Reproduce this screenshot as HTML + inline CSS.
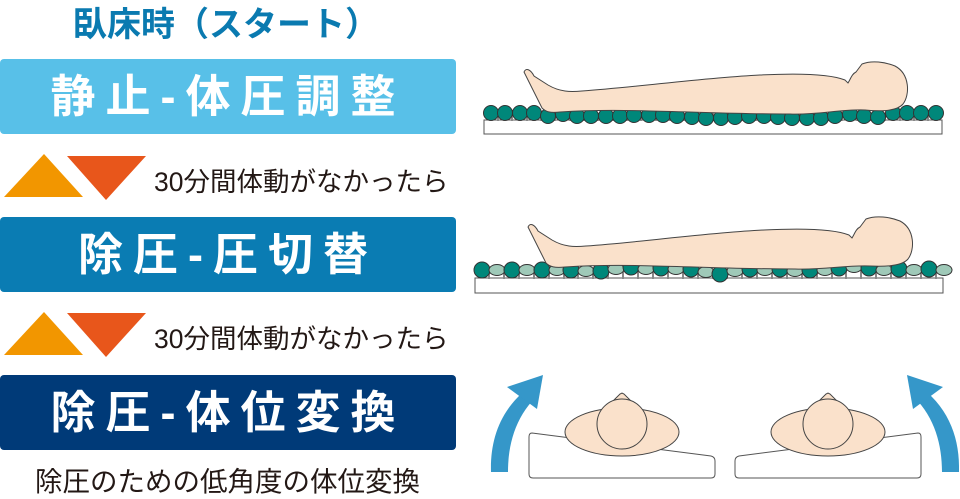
<!DOCTYPE html>
<html><head><meta charset="utf-8"><style>
body{margin:0;width:960px;height:496px;background:#fff;overflow:hidden;position:relative;font-family:"Liberation Sans","Noto Sans CJK JP",sans-serif}
.t{position:absolute;white-space:nowrap}
.box{position:absolute;left:0;width:456px;height:75px;border-radius:4px;color:#fff;font-weight:bold;font-size:45px;line-height:75px;text-align:center;letter-spacing:10px}
</style></head><body>
<div class="t" style="left:73px;top:-3px;font-size:34px;font-weight:bold;color:#0a7ab0;letter-spacing:0px">臥床時（スタート）</div>
<div class="box" style="top:59px;background:#58c0e8">静止-体圧調整</div>
<div class="box" style="top:217px;background:#0a7cb3">除圧-圧切替</div>
<div class="box" style="top:375px;background:#003a78">除圧-体位変換</div>
<div class="t" style="left:154px;top:160px;font-size:26.5px;color:#231815">30分間体動がなかったら</div>
<div class="t" style="left:154px;top:317px;font-size:26.5px;color:#231815">30分間体動がなかったら</div>
<div class="t" style="left:35px;top:459px;font-size:27.5px;color:#231815">除圧のための低角度の体位変換</div>
<svg width="960" height="496" style="position:absolute;left:0;top:0">
<polygon points="4,197 44,154 83,197" fill="#f29600"/>
<polygon points="67,156 146,156 106,200" fill="#e8561b"/>
<polygon points="4,355 44,312 83,355" fill="#f29600"/>
<polygon points="67,313 146,313 106,357" fill="#e8561b"/>
<g stroke="#555" stroke-width="1">
<rect x="484" y="120" width="458" height="14" fill="#fff"/>
<rect x="475" y="278" width="468" height="15" fill="#fff"/>
</g>
<g id="r1" fill="#00877a" stroke="#333" stroke-width="1">
<g stroke="#888" stroke-width="2">
<path d="M498,113v8M512,113v8M527,113v8M541,113v8M555,113v8M570,113v8M584,113v8M598,113v8M613,113v8M627,113v8M641,113v8M656,113v8M670,113v8M684,113v8M699,113v8M713,113v8M728,113v8M742,113v8M756,113v8M771,113v8M785,113v8M799,113v8M814,113v8M828,113v8M842,113v8M857,113v8M871,113v8M885,113v8M900,113v8M914,113v8M928,113v8"/>
<path d="M489,270v9M504,270v9M519,270v9M534,270v9M549,270v9M564,270v9M578,270v9M593,270v9M608,270v9M623,270v9M638,270v9M653,270v9M668,270v9M683,270v9M698,270v9M713,270v9M727,270v9M742,270v9M757,270v9M772,270v9M787,270v9M802,270v9M817,270v9M832,270v9M846,270v9M861,270v9M876,270v9M891,270v9M906,270v9M921,270v9M936,270v9"/>
</g>
<circle cx="491" cy="113" r="7.5"/><circle cx="505" cy="113" r="7.5"/><circle cx="520" cy="113" r="7.5"/><circle cx="534" cy="113" r="7.5"/><circle cx="548" cy="116" r="7.5"/><circle cx="563" cy="114" r="7.5"/><circle cx="577" cy="116" r="7.5"/><circle cx="591" cy="116" r="7.5"/><circle cx="606" cy="116" r="7.5"/><circle cx="620" cy="116" r="7.5"/><circle cx="634" cy="115" r="7.5"/><circle cx="649" cy="115" r="7.5"/><circle cx="663" cy="115" r="7.5"/><circle cx="677" cy="116" r="7.5"/><circle cx="692" cy="117" r="7.5"/><circle cx="706" cy="118" r="7.5"/><circle cx="721" cy="118" r="7.5"/><circle cx="735" cy="117" r="7.5"/><circle cx="749" cy="116" r="7.5"/><circle cx="764" cy="116" r="7.5"/><circle cx="778" cy="117" r="7.5"/><circle cx="792" cy="118" r="7.5"/><circle cx="807" cy="118" r="7.5"/><circle cx="821" cy="118" r="7.5"/><circle cx="835" cy="116" r="7.5"/><circle cx="850" cy="114" r="7.5"/><circle cx="864" cy="116" r="7.5"/><circle cx="878" cy="117" r="7.5"/><circle cx="893" cy="113" r="7.5"/><circle cx="907" cy="113" r="7.5"/><circle cx="921" cy="113" r="7.5"/><circle cx="936" cy="113" r="7.5"/>
</g>
<g stroke="#333" stroke-width="1">
<circle cx="482" cy="270" r="8" fill="#00877a"/><ellipse cx="497" cy="270" rx="8" ry="5.5" fill="#9fc9b8"/><circle cx="512" cy="270" r="8" fill="#00877a"/><ellipse cx="527" cy="270" rx="8" ry="5.5" fill="#9fc9b8"/><circle cx="542" cy="270" r="8" fill="#00877a"/><ellipse cx="557" cy="270" rx="8" ry="5.5" fill="#9fc9b8"/><circle cx="571" cy="270" r="8" fill="#00877a"/><ellipse cx="586" cy="271" rx="8" ry="5.5" fill="#9fc9b8"/><circle cx="601" cy="271" r="8" fill="#00877a"/><ellipse cx="616" cy="269" rx="8" ry="5.5" fill="#9fc9b8"/><circle cx="631" cy="267" r="8" fill="#00877a"/><ellipse cx="646" cy="269" rx="8" ry="5.5" fill="#9fc9b8"/><circle cx="661" cy="268" r="8" fill="#00877a"/><ellipse cx="676" cy="269" rx="8" ry="5.5" fill="#9fc9b8"/><circle cx="691" cy="269" r="8" fill="#00877a"/><ellipse cx="706" cy="272" rx="8" ry="5.5" fill="#9fc9b8"/><circle cx="720" cy="274" r="8" fill="#00877a"/><ellipse cx="735" cy="271" rx="8" ry="5.5" fill="#9fc9b8"/><circle cx="750" cy="269" r="8" fill="#00877a"/><ellipse cx="765" cy="270" rx="8" ry="5.5" fill="#9fc9b8"/><circle cx="780" cy="269" r="8" fill="#00877a"/><ellipse cx="795" cy="271" rx="8" ry="5.5" fill="#9fc9b8"/><circle cx="810" cy="270" r="8" fill="#00877a"/><ellipse cx="825" cy="270" rx="8" ry="5.5" fill="#9fc9b8"/><circle cx="839" cy="268" r="8" fill="#00877a"/><ellipse cx="854" cy="267" rx="8" ry="5.5" fill="#9fc9b8"/><circle cx="869" cy="268" r="8" fill="#00877a"/><ellipse cx="884" cy="270" rx="8" ry="5.5" fill="#9fc9b8"/><circle cx="899" cy="269" r="8" fill="#00877a"/><ellipse cx="914" cy="270" rx="8" ry="5.5" fill="#9fc9b8"/><circle cx="929" cy="269" r="8" fill="#00877a"/><ellipse cx="944" cy="270" rx="8" ry="5.5" fill="#9fc9b8"/>
</g>
<g fill="#fae1cb" stroke="#444" stroke-width="1">
<path d="M524,72 C526,67 531,70 534,76 L548,85 C560,92 570,92 582,91 C640,87 700,78 760,75 C800,73 830,74 845,80 L848,83 C851,78 852,74 856,72 L862,64 C872,60 885,62 895,66 C910,74 910,95 903,104 C898,110 885,112 865,110 C840,109 820,115 790,114 C740,114 700,112 650,111 C620,110 590,110 560,112 C550,113 546,112 542,108 L530,84 Z"/>
<path d="M528,227 C530,222 535,225 538,231 L552,240 C564,247 574,247 586,246 C644,242 704,233 764,230 C804,228 834,229 849,235 L852,238 C855,233 856,229 860,227 L866,219 C876,215 890,217 900,221 C915,229 915,250 908,259 C903,265 890,267 870,266 C845,265 825,270 795,269 C745,269 705,267 655,266 C625,265 595,265 565,267 C555,268 550,267 546,263 L534,239 Z"/>
</g>
<g fill="#3597c9">
<path d="M491,472 C490,440 500,410 528,388 L536,397 C515,418 508,445 508,472 Z"/>
<polygon points="543,375 507,387 537,409"/>
<path d="M959,472 C960,440 950,410 922,388 L914,397 C935,418 942,445 942,472 Z"/>
<polygon points="907,375 943,387 913,409"/>
</g>
<g stroke="#555" stroke-width="1" fill="#fff">
<path d="M532,433 L711,456 Q715,457 715,461 L715,474 Q715,478 711,478 L533,478 Q529,478 529,474 L529,437 Q529,433 532,433 Z"/>
<path d="M918,433 L739,456 Q735,457 735,461 L735,474 Q735,478 739,478 L917,478 Q921,478 921,474 L921,437 Q921,433 918,433 Z"/>
</g>
<g fill="#fae1cb" stroke="#444" stroke-width="1">
<ellipse cx="622" cy="432" rx="57" ry="24"/>
<path d="M612,402 L620,394 L622,393 L624,394 L632,402 Z"/>
<circle cx="622" cy="424" r="25"/>
<ellipse cx="828" cy="432" rx="57" ry="24"/>
<path d="M818,402 L826,394 L828,393 L830,394 L838,402 Z"/>
<circle cx="828" cy="424" r="25"/>
</g>
</svg>
</body></html>
